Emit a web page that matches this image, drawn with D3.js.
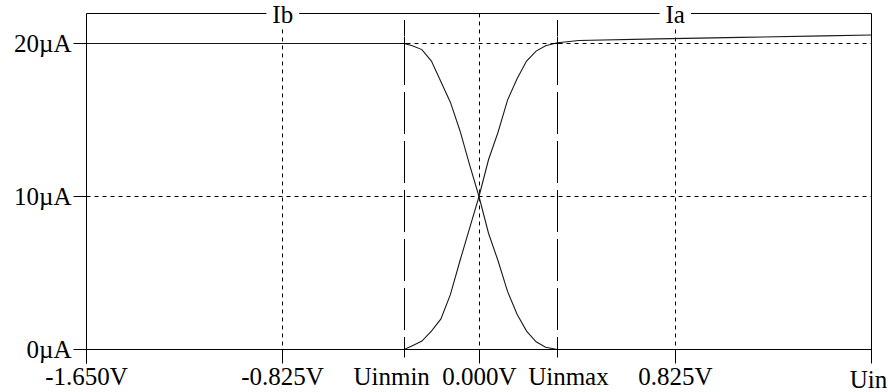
<!DOCTYPE html>
<html>
<head>
<meta charset="utf-8">
<script src="https://cdn.jsdelivr.net/npm/d3@7"></script>
<style>
  html, body { margin: 0; background: #fff; }
  svg { display: block; }
  text { font-family: "Liberation Serif", "Times New Roman", serif; font-size: 25px; fill: #000; }
</style>
</head>
<body>
<svg id="chart" width="888" height="392"></svg>
<script>
// Input sweep (V) and branch currents (µA) of the differential pair
const uinVolts    = [-1.65, -0.315, -0.28, -0.24, -0.20, -0.16, -0.12, -0.08, -0.04, 0, 0.04, 0.08, 0.12, 0.16, 0.20, 0.24, 0.28, 0.33, 1.65];
const ibMicroAmps = [20, 20, 19.85, 19.6, 18.85, 17.5, 16.15, 14.3, 12.1, 10, 7.6, 5.8, 3.8, 2.3, 1.2, 0.5, 0.15, 0, 0];

const iaVolts     = [-1.65, -0.315, -0.28, -0.24, -0.20, -0.16, -0.12, -0.08, -0.04, 0, 0.04, 0.08, 0.12, 0.16, 0.20, 0.24, 0.28, 0.33, 0.42, 0.75, 1.10, 1.45, 1.65];
const iaMicroAmps = [0, 0, 0.25, 0.55, 1.2, 2.0, 3.6, 5.8, 7.9, 10, 12.4, 14.2, 16.3, 17.7, 18.85, 19.5, 19.85, 20.05, 20.2, 20.3, 20.4, 20.5, 20.55];

// Input range limits
const uinMin = -0.315;
const uinMax = 0.33;

// Axis ticks
const xTickValues = [-1.65, -0.825, 0, 0.825];
const xTickLabels = ["-1.650V", "-0.825V", "0.000V", "0.825V"];
const xAxisName = "Uin";
const yTickValues = [0, 10, 20];
const yTickLabels = ["0µA", "10µA", "20µA"];

// Series names shown along the top edge, and where they sit
const seriesNames = ["Ib", "Ia"];
const seriesNameAt = [-0.825, 0.825];

const svg = d3.select("#chart");
const plotLeft = 86.5, plotRight = 871.5, plotTop = 13.5, plotBottom = 349.5;
const x = d3.scaleLinear().domain([-1.65, 1.65]).range([plotLeft, plotRight]);
const y = d3.scaleLinear().domain([0, 21.96]).range([plotBottom, plotTop]);
const px = v => Math.round(x(v) - 0.5) + 0.5;
const py = v => Math.round(y(v) - 0.5) + 0.5;

// Dotted grid
const grid = svg.append("g").attr("stroke", "#000").attr("stroke-width", 1).attr("stroke-dasharray", "4,4");
grid.selectAll("line.v").data(xTickValues.slice(1)).join("line")
  .attr("x1", d => px(d)).attr("x2", d => px(d))
  .attr("y1", plotTop).attr("y2", plotBottom);
grid.selectAll("line.h").data(yTickValues.slice(1)).join("line")
  .attr("x1", plotLeft).attr("x2", plotRight)
  .attr("y1", d => py(d)).attr("y2", d => py(d));

// Current curves
const line = d3.line().x(d => x(d[0])).y(d => y(d[1]));
const curves = svg.append("g").attr("fill", "none").attr("stroke", "#1a1a1a").attr("stroke-width", 1.1);
curves.append("path").attr("d", line(uinVolts.map((v, i) => [v, ibMicroAmps[i]])));
curves.append("path").attr("d", line(iaVolts.map((v, i) => [v, iaMicroAmps[i]])));

// Uinmin / Uinmax markers
const limits = [uinMin, uinMax];
const lim = svg.append("g").attr("stroke", "#000").attr("stroke-width", 1);
lim.selectAll("line.dash").data(limits).join("line")
  .attr("x1", d => px(d)).attr("x2", d => px(d))
  .attr("y1", 20).attr("y2", plotBottom)
  .attr("stroke-dasharray", "42,7").attr("stroke-dashoffset", 26);
limits.forEach(v => {
  const cx = px(v);
  [0, 20].forEach(a => {
    const cy = py(a);
    lim.append("line").attr("x1", cx - 5).attr("x2", cx + 5).attr("y1", cy).attr("y2", cy);
    lim.append("line").attr("x1", cx).attr("x2", cx).attr("y1", cy - 7).attr("y2", cy + 8);
  });
});

// Frame
const frame = svg.append("g").attr("stroke", "#000").attr("stroke-width", 1).attr("fill", "none");
frame.append("line").attr("x1", plotLeft).attr("x2", plotRight).attr("y1", plotTop).attr("y2", plotTop);
frame.append("line").attr("x1", plotRight).attr("x2", plotRight).attr("y1", plotTop).attr("y2", plotBottom + 14);
frame.append("line").attr("x1", plotLeft).attr("x2", plotLeft).attr("y1", plotTop).attr("y2", plotBottom + 14);
frame.append("line").attr("x1", plotLeft).attr("x2", plotRight).attr("y1", plotBottom).attr("y2", plotBottom);

// Y axis
const yAxis = svg.append("g").attr("transform", `translate(${plotLeft},0)`)
  .call(d3.axisLeft(y).tickValues(yTickValues).tickFormat((d, i) => yTickLabels[i]).tickSize(13).tickPadding(2));
yAxis.select(".domain").remove();
yAxis.attr("font-family", null).attr("font-size", null);
yAxis.selectAll(".tick").attr("transform", d => `translate(0,${py(d)})`);
yAxis.selectAll(".tick line").attr("stroke", "#000").attr("x2", -13).attr("x1", 1);
yAxis.selectAll(".tick text").attr("dy", "0.34em").attr("x", -15);

// X axis
const xAxis = svg.append("g").attr("transform", `translate(0,${plotBottom})`)
  .call(d3.axisBottom(x).tickValues(xTickValues).tickFormat((d, i) => xTickLabels[i]).tickSize(14).tickPadding(2));
xAxis.select(".domain").remove();
xAxis.attr("font-family", null).attr("font-size", null);
xAxis.selectAll(".tick").attr("transform", d => `translate(${px(d)},0)`);
xAxis.selectAll(".tick line").attr("stroke", "#000");
xAxis.selectAll(".tick text").attr("dy", 0).attr("y", 35.5);

// Limit labels, kept clear of the 0.000V label
const zeroLabel = xAxis.selectAll(".tick text").filter(d => d === 0).node();
const zeroHalf = zeroLabel.getComputedTextLength() / 2;
const x0 = x(0);
svg.append("text").attr("x", x0 - zeroHalf - 12).attr("y", plotBottom + 35.5).attr("text-anchor", "end").text("Uinmin");
svg.append("text").attr("x", x0 + zeroHalf + 12).attr("y", plotBottom + 35.5).attr("text-anchor", "start").text("Uinmax");

// Axis name at the right end
svg.append("text").attr("x", plotRight - 3).attr("y", plotBottom + 38.5).attr("text-anchor", "middle").text(xAxisName);

// Series names breaking the top edge
seriesNames.forEach((name, i) => {
  const t = svg.append("text").attr("x", x(seriesNameAt[i])).attr("y", plotTop + 9).attr("text-anchor", "middle").text(name);
  const w = t.node().getComputedTextLength();
  svg.insert("rect", () => t.node())
    .attr("x", x(seriesNameAt[i]) - w / 2 - 6).attr("y", 0)
    .attr("width", w + 12).attr("height", 28).attr("fill", "#fff");
});
</script>
</body>
</html>
